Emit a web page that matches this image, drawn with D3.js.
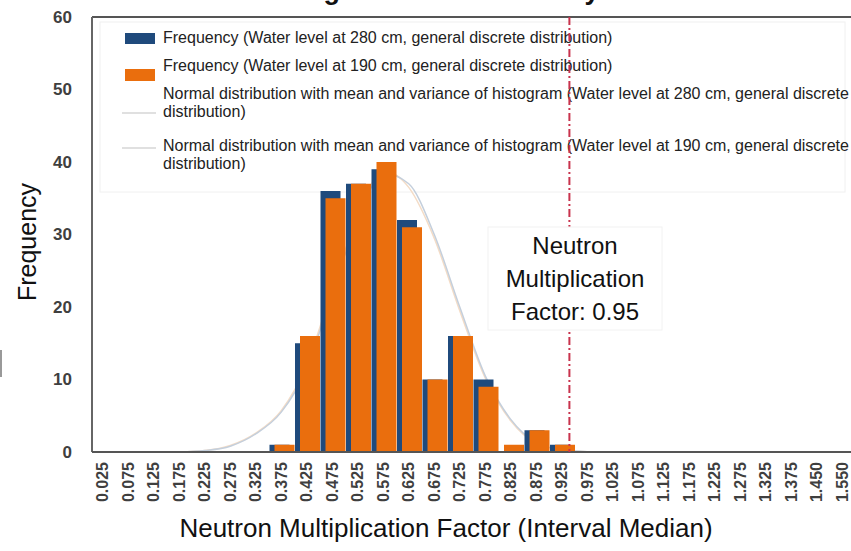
<!DOCTYPE html>
<html>
<head>
<meta charset="utf-8">
<script src="https://cdn.jsdelivr.net/npm/d3@7"></script>
<style>
  body { margin: 0; background: #fff; }
  svg { display: block; font-family: "Liberation Sans", Arial, sans-serif; }
</style>
</head>
<body>
<div id="chart"></div>
<script>
// categories (interval medians)
const categories = ["0.025","0.075","0.125","0.175","0.225","0.275","0.325","0.375","0.425","0.475",
  "0.525","0.575","0.625","0.675","0.725","0.775","0.825","0.875","0.925","0.975",
  "1.025","1.075","1.125","1.175","1.225","1.275","1.325","1.375","1.450","1.550"];

// frequencies
const freq280 = [0,0,0,0,0,0,0,1,15,36,37,39,32,10,16,10,0,3,1,0,0,0,0,0,0,0,0,0,0,0];
const freq190 = [0,0,0,0,0,0,0,1,16,35,37,40,31,10,16,9,1,3,1,0,0,0,0,0,0,0,0,0,0,0];

// normal curves, estimated at each interval median
const curveCats = ["0.175","0.225","0.275","0.325","0.375","0.425","0.475","0.525","0.575",
  "0.625","0.675","0.725","0.775","0.825","0.875","0.925","0.975","1.025"];
const normal280 = [0,0.2,0.8,2.5,5.5,11.5,22,32,38.5,37,30,20,10.5,4.5,1.3,0.3,0.05,0];
const normal190 = [0,0.2,0.9,2.6,5.7,12,22.5,32.5,38.8,36.5,29.5,19.5,10.2,4.3,1.2,0.3,0.05,0];

const yTicks = [0,10,20,30,40,50,60];
const threshold = "0.925"; // k = 0.95 line sits at the upper end of this interval

const legendItems = [
  "Frequency (Water level at 280 cm, general discrete distribution)",
  "Frequency (Water level at 190 cm, general discrete distribution)",
  "Normal distribution with mean and variance of histogram (Water level at 280 cm, general discrete",
  "Normal distribution with mean and variance of histogram (Water level at 190 cm, general discrete"
];

const W = 851, H = 551;
const plot = {left: 92, top: 17, bottom: 452, right: 851};

const svg = d3.select("#chart").append("svg")
  .attr("width", W).attr("height", H);

const x = d3.scaleBand().domain(categories).range([90, 855]).padding(0);
const y = d3.scaleLinear().domain([0, 60]).range([plot.bottom, plot.top]);

// title, cut off at the top edge as in the source
svg.append("text")
  .attr("x", 256).attr("y", -1)
  .attr("font-size", 27).attr("font-weight", "bold").attr("fill", "#111")
  .text("Histogram of Subcriticality");

// tiny artefact on far left
svg.append("line").attr("x1", 1).attr("x2", 1).attr("y1", 350).attr("y2", 377)
  .attr("stroke", "#999").attr("stroke-width", 2);

// legend (sits behind the bars)
const leg = svg.append("g");
leg.append("rect").attr("x", 100).attr("y", 22).attr("width", 745).attr("height", 170)
  .attr("fill", "#fff").attr("stroke", "#f0f0f0");
leg.append("rect").attr("x", 125).attr("y", 33).attr("width", 30).attr("height", 11).attr("fill", "#1f4a7c");
leg.append("rect").attr("x", 125).attr("y", 69).attr("width", 30).attr("height", 12).attr("fill", "#ea6e0d");
leg.append("line").attr("x1", 122).attr("x2", 156).attr("y1", 113).attr("y2", 113)
  .attr("stroke", "#e0e0e0").attr("stroke-width", 2);
leg.append("line").attr("x1", 122).attr("x2", 156).attr("y1", 148).attr("y2", 148)
  .attr("stroke", "#e0e0e0").attr("stroke-width", 2);

const legRows = [
  {t: legendItems[0], y: 37},
  {t: legendItems[1], y: 65},
  {t: legendItems[2], y: 93},
  {t: "distribution)", y: 111},
  {t: legendItems[3], y: 145},
  {t: "distribution)", y: 163}
];
leg.selectAll("text.lt")
  .data(legRows)
  .join("text")
  .attr("class", "lt")
  .attr("x", 163).attr("y", d => d.y)
  .attr("dy", "0.35em")
  .attr("font-size", 16).attr("fill", "#222")
  .text(d => d.t);

// y axis labels
const yAxis = svg.append("g")
  .attr("transform", `translate(${plot.left},0)`)
  .call(d3.axisLeft(y).tickValues(yTicks).tickSize(0).tickPadding(20));
yAxis.select(".domain").remove();
yAxis.selectAll("text")
  .attr("font-size", 17).attr("font-weight", "bold").attr("fill", "#3f3f3f")
  .attr("font-family", "Liberation Sans, Arial, sans-serif");

// x axis labels (rotated)
const xAxis = svg.append("g")
  .attr("transform", `translate(0,${plot.bottom})`)
  .call(d3.axisBottom(x).tickSize(0));
xAxis.select(".domain").remove();
xAxis.selectAll("text")
  .attr("transform", "rotate(-90)")
  .attr("x", -10).attr("y", 0).attr("dy", "0.35em")
  .style("text-anchor", "end")
  .attr("font-size", 16).attr("font-weight", "bold").attr("fill", "#3f3f3f")
  .attr("font-family", "Liberation Sans, Arial, sans-serif");

// normal curves (behind bars)
const curveLine = d3.line()
  .x((d, i) => x(curveCats[i]) + x.bandwidth() / 2)
  .y(d => y(d))
  .curve(d3.curveMonotoneX);

svg.append("path").datum(normal190)
  .attr("d", curveLine)
  .attr("fill", "none").attr("stroke", "#f4dcc6").attr("stroke-width", 1.5);
svg.append("path").datum(normal280)
  .attr("d", curveLine)
  .attr("fill", "none").attr("stroke", "#c4cfdc").attr("stroke-width", 1.5);

// bars
const barW = 20;
svg.append("g").selectAll("rect")
  .data(freq280)
  .join("rect")
  .attr("x", (d, i) => x(categories[i]) + 1)
  .attr("y", d => y(d))
  .attr("width", barW)
  .attr("height", d => plot.bottom - y(d))
  .attr("fill", "#1f4a7c");

svg.append("g").selectAll("rect")
  .data(freq190)
  .join("rect")
  .attr("x", (d, i) => x(categories[i]) + 6)
  .attr("y", d => y(d))
  .attr("width", barW)
  .attr("height", d => plot.bottom - y(d))
  .attr("fill", "#ea6e0d");

// frame
svg.append("line").attr("x1", plot.left).attr("x2", plot.right)
  .attr("y1", plot.top).attr("y2", plot.top)
  .attr("stroke", "#555").attr("stroke-width", 2);
svg.append("line").attr("x1", plot.left).attr("x2", plot.left)
  .attr("y1", plot.top).attr("y2", plot.bottom)
  .attr("stroke", "#666").attr("stroke-width", 2);
svg.append("line").attr("x1", plot.left).attr("x2", plot.right)
  .attr("y1", plot.bottom).attr("y2", plot.bottom)
  .attr("stroke", "#555").attr("stroke-width", 2);

// threshold line
const tx = x(threshold) + x.bandwidth() * 0.8;
svg.append("line")
  .attr("x1", tx).attr("x2", tx)
  .attr("y1", plot.top).attr("y2", plot.bottom)
  .attr("stroke", "#c8334d").attr("stroke-width", 2)
  .attr("stroke-dasharray", "8,3,2,3");

// annotation box
svg.append("rect").attr("x", 488).attr("y", 227).attr("width", 174).attr("height", 103)
  .attr("fill", "#fff").attr("stroke", "#f2f2f2");
const ann = ["Neutron", "Multiplication", "Factor: 0.95"];
svg.selectAll("text.ann")
  .data(ann)
  .join("text")
  .attr("class", "ann")
  .attr("x", 575).attr("y", (d, i) => 246 + i * 33)
  .attr("dy", "0.35em")
  .attr("text-anchor", "middle")
  .attr("font-size", 24).attr("fill", "#111")
  .text(d => d);

// axis titles
svg.append("text")
  .attr("x", 446).attr("y", 537)
  .attr("text-anchor", "middle")
  .attr("font-size", 26).attr("fill", "#111")
  .text("Neutron Multiplication Factor (Interval Median)");

svg.append("text")
  .attr("transform", "translate(36,242) rotate(-90)")
  .attr("text-anchor", "middle")
  .attr("font-size", 25).attr("fill", "#111")
  .text("Frequency");
</script>
</body>
</html>
